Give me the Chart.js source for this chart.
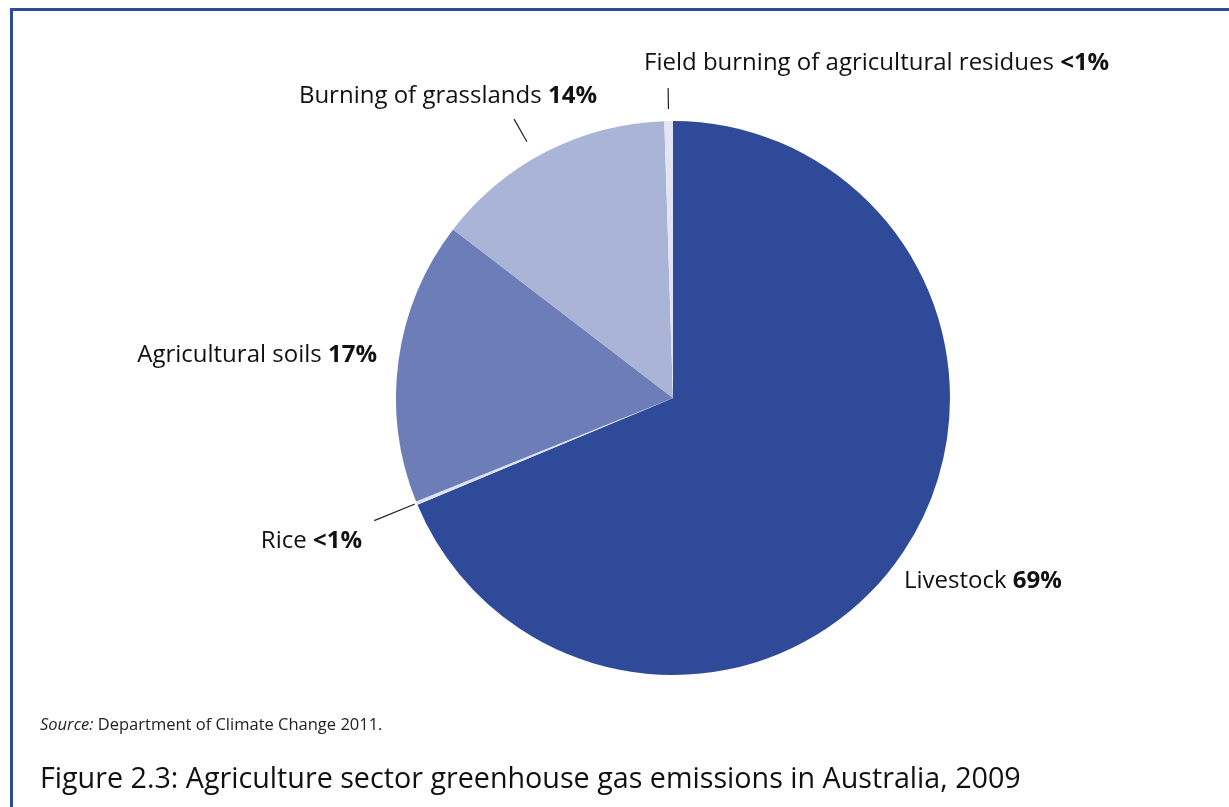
<!DOCTYPE html>
<html><head><meta charset="utf-8">
<script src="https://cdn.jsdelivr.net/npm/chart.js@4/dist/chart.umd.min.js"></script>
<style>
html,body{margin:0;padding:0;background:#fff;}
#wrap{position:relative;width:1229px;height:807px;}
canvas{display:block;}
</style></head><body>
<div id="wrap"><canvas id="c" width="1229" height="807"></canvas></div>
<script>
const categories = ["Livestock", "Rice", "Agricultural soils", "Burning of grasslands", "Field burning of agricultural residues"];
const shares = [68.7, 0.2, 16.5, 14.1, 0.5];
const shareLabels = ["69%", "<1%", "17%", "14%", "<1%"];
const colors = ["#2e4a99", "#dde2f0", "#6c7db7", "#aab4d6", "#e3e6f2"];

const FONT = "'Open Sans', sans-serif";
const LABEL_PX = 24;
// label layout: offset of text anchor from pie centre, alignment, optional leader (extra radius start/end)
const layout = [
  {dx: 231, dy: 190, align: 'left'},
  {dx: -311, dy: 150, align: 'right', leader: [2, 46]},
  {dx: -296, dy: -36, align: 'right'},
  {dx: -76, dy: -295, align: 'right', leader: [18, 44], angShift: -2.5},
  {dx: -29, dy: -328, align: 'left', leader: [12, 33]}
];

const labelPlugin = {
  id: 'labels',
  afterDraw(chart) {
    const ctx = chart.ctx;
    ctx.save();
    ctx.fillStyle = '#2e4a99';
    ctx.fillRect(10, 8, 1219, 3);
    ctx.fillRect(10, 8, 3, 799);
    const meta = chart.getDatasetMeta(0);
    meta.data.forEach((arc, i) => {
      const p = arc.getProps(['x','y','startAngle','endAngle','outerRadius']);
      const L = layout[i];
      if (L.leader) {
        let mid = (p.startAngle + p.endAngle) / 2 + (L.angShift || 0) * Math.PI / 180;
        ctx.strokeStyle = '#222';
        ctx.lineWidth = 1.2;
        ctx.beginPath();
        ctx.moveTo(p.x + Math.cos(mid) * (p.outerRadius + L.leader[0]), p.y + Math.sin(mid) * (p.outerRadius + L.leader[0]));
        ctx.lineTo(p.x + Math.cos(mid) * (p.outerRadius + L.leader[1]), p.y + Math.sin(mid) * (p.outerRadius + L.leader[1]));
        ctx.stroke();
      }
      const name = categories[i] + ' ';
      const val = shareLabels[i];
      ctx.font = LABEL_PX + 'px ' + FONT;
      const w1 = ctx.measureText(name).width;
      ctx.font = 'bold ' + LABEL_PX + 'px ' + FONT;
      const w2 = ctx.measureText(val).width;
      let x = p.x + L.dx;
      const y = p.y + L.dy;
      if (L.align === 'right') x -= (w1 + w2);
      ctx.textBaseline = 'alphabetic';
      ctx.textAlign = 'left';
      ctx.fillStyle = '#111';
      ctx.font = LABEL_PX + 'px ' + FONT;
      ctx.fillText(name, x, y);
      ctx.font = 'bold ' + LABEL_PX + 'px ' + FONT;
      ctx.fillText(val, x + w1, y);
    });
    ctx.fillStyle = '#222';
    ctx.font = 'italic 16.5px ' + FONT;
    ctx.fillText('Source:', 40, 730);
    const ws = ctx.measureText('Source: ').width;
    ctx.font = '16.5px ' + FONT;
    ctx.fillText('Department of Climate Change 2011.', 40 + ws, 730);
    ctx.fillStyle = '#111';
    ctx.font = '28.7px ' + FONT;
    ctx.fillText('Figure 2.3: Agriculture sector greenhouse gas emissions in Australia, 2009', 40, 788);
    ctx.restore();
  }
};

new Chart(document.getElementById('c'), {
  type: 'pie',
  data: {
    labels: categories,
    datasets: [{
      data: shares,
      backgroundColor: colors,
      borderWidth: 0
    }]
  },
  options: {
    responsive: false,
    animation: false,
    layout: {padding: {left: 396, right: 279, top: 121, bottom: 132}},
    plugins: {legend: {display: false}, tooltip: {enabled: false}}
  },
  plugins: [labelPlugin]
});
</script>
</body></html>
